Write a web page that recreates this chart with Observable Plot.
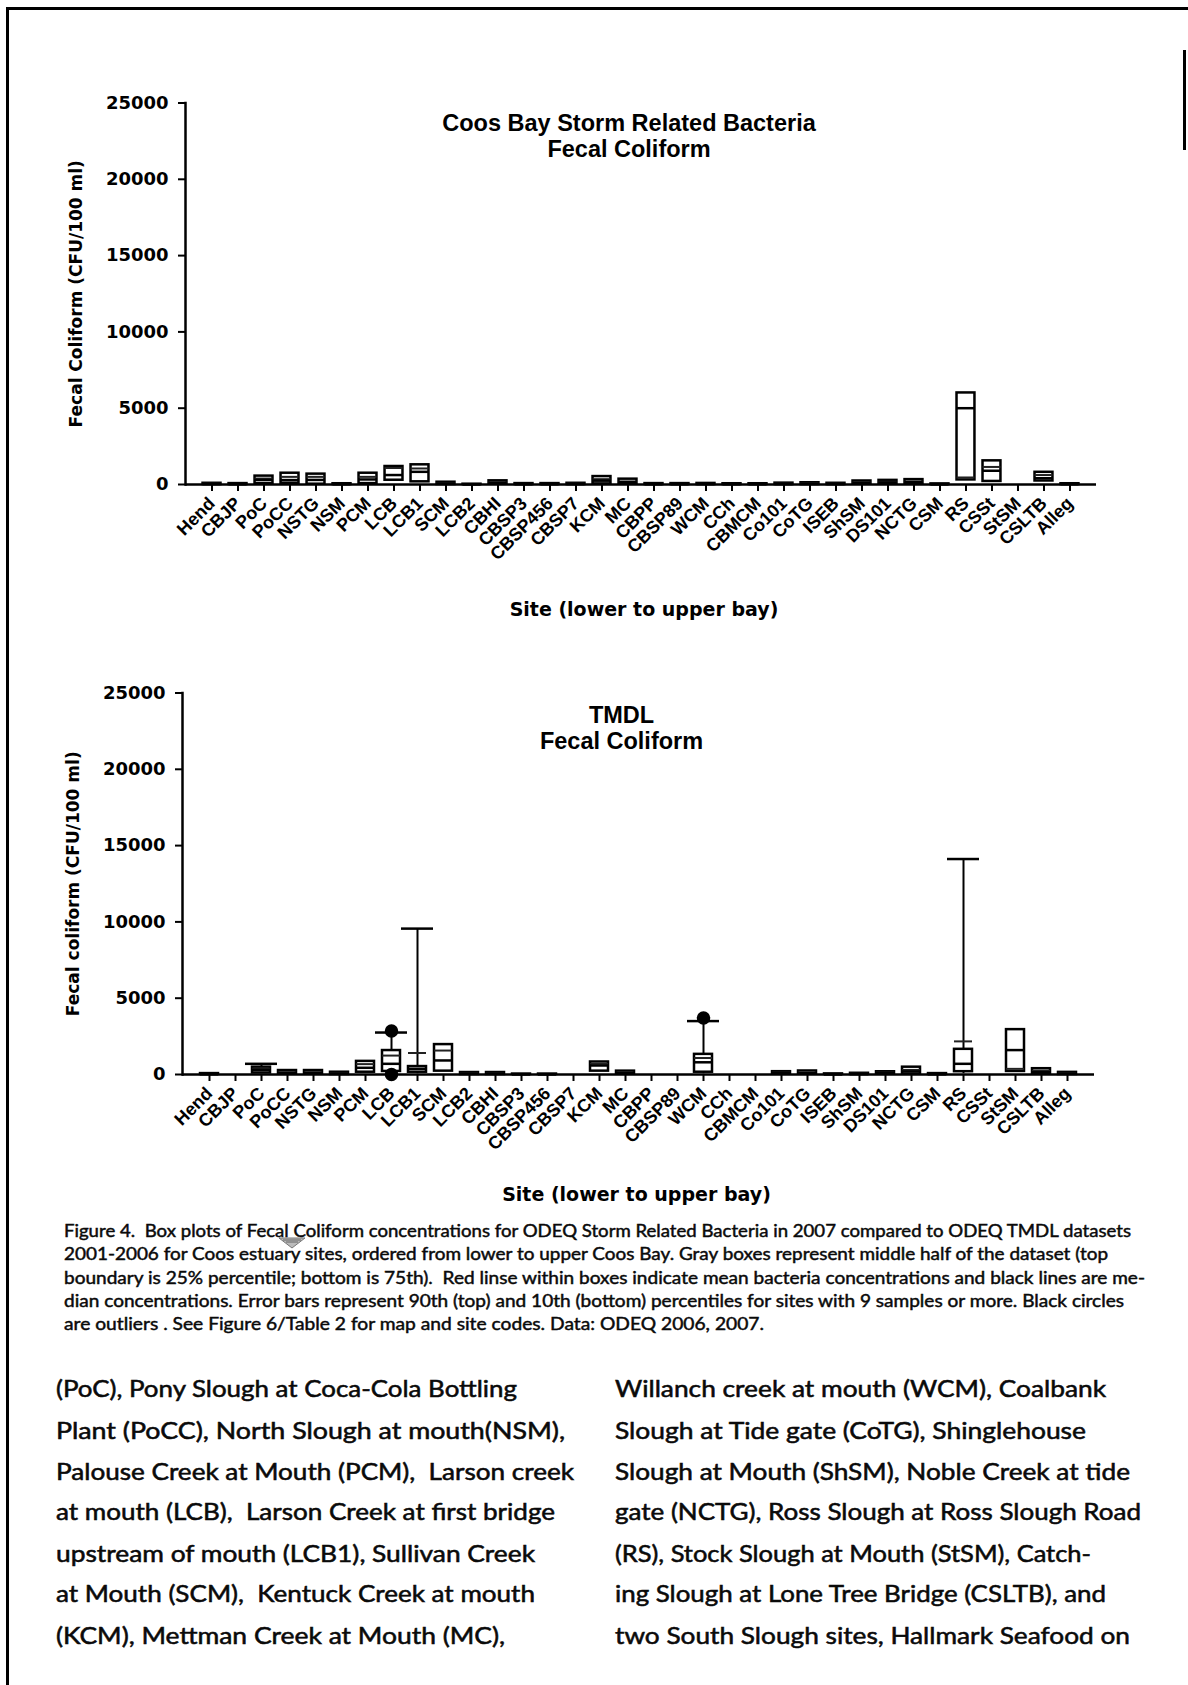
<!DOCTYPE html>
<html>
<head>
<meta charset="utf-8">
<script src="https://cdn.jsdelivr.net/npm/d3@7"></script>
<script src="https://cdn.jsdelivr.net/npm/@observablehq/plot@0.6"></script>
<style>
html, body { margin: 0; padding: 0; background: #fff; }
#page { position: relative; width: 1188px; height: 1685px; overflow: hidden; background: #fff; }
.blk { position: absolute; background: #000; }
.chart { position: absolute; left: 0; }
.line { position: absolute; white-space: pre; transform-origin: 0 0; color: #0a0a0a;
        font-family: Lato, "Open Sans", sans-serif; line-height: 1; }
.cap { -webkit-text-stroke: 0.45px #0a0a0a; }
.body { -webkit-text-stroke: 0.55px #0a0a0a; }
</style>
</head>
<body>
<div id="page">
  <div class="blk" style="left:6px;top:7px;width:1182px;height:3px;"></div>
  <div class="blk" style="left:6px;top:7px;width:3px;height:1678px;"></div>
  <div class="blk" style="left:1183px;top:50px;width:3px;height:100px;"></div>
  <div id="top" class="chart" style="top:0px;"></div>
  <div id="bottom" class="chart" style="top:640px;"></div>
  <svg style="position:absolute;left:278px;top:1237px;" width="28" height="12">
    <path d="M1,1 L27,1 L14,11 Z" fill="#bbb" stroke="#777" stroke-width="1"/>
    <path d="M5,3 L23,3 M8,5 L20,5" stroke="#666" stroke-width="1"/>
  </svg>
</div>
<script>
// ---------- data ----------
const sites = ["Hend","CBJP","PoC","PoCC","NSTG","NSM","PCM","LCB","LCB1","SCM","LCB2","CBHI","CBSP3","CBSP456","CBSP7","KCM","MC","CBPP","CBSP89","WCM","CCh","CBMCM","Co101","CoTG","ISEB","ShSM","DS101","NCTG","CSM","RS","CSSt","StSM","CSLTB","Alleg"];
const yTicks = [0, 5000, 10000, 15000, 20000, 25000];

// Storm related bacteria 2007
const stormQ1     = [0,0,60,80,20,0,60,280,175,0,0,20,0,0,0,40,30,0,0,0,0,0,0,0,0,20,20,20,0,300,200,null,230,0];
const stormQ3     = [80,60,550,740,680,50,740,1180,1290,150,20,240,60,60,80,520,350,60,60,70,50,50,90,115,80,230,270,320,40,6000,1550,null,800,50];
const stormMedian = [30,20,300,290,300,20,330,620,830,60,10,100,20,20,30,250,150,20,20,30,20,20,30,40,30,100,120,150,10,5000,900,null,410,20];
const stormMean   = [50,40,390,500,500,30,500,1080,1050,100,10,150,40,40,50,350,200,40,40,40,30,30,50,70,50,150,180,200,20,460,1150,null,620,30];

// TMDL 2001-2006
const tmdlQ1     = [0,null,100,30,30,0,150,200,150,220,0,0,0,0,null,220,20,null,null,150,null,null,20,20,0,0,20,30,0,185,null,200,30,0];
const tmdlQ3     = [60,null,480,260,260,150,860,1570,520,1960,130,130,30,30,null,820,220,null,null,1320,null,null,185,230,40,80,180,480,60,1650,null,2940,380,140];
const tmdlMedian = [20,null,300,100,100,50,440,700,370,920,50,50,10,10,null,590,80,null,null,800,null,null,80,80,10,30,80,200,20,700,null,1600,150,50];
const tmdlMean   = [40,null,380,150,150,80,680,1240,1410,1570,80,80,20,20,null,700,120,null,null,1080,null,null,120,130,20,50,120,300,40,2170,null,370,250,80];
const tmdlP10    = [null,null,null,null,null,null,null,60,50,null,null,null,null,null,null,null,null,null,null,50,null,null,null,null,null,null,null,null,null,50,null,null,null,null];
const tmdlP90    = [null,null,700,null,null,null,null,2750,9560,null,null,null,null,null,null,null,null,null,null,3500,null,null,null,null,null,null,null,null,null,14120,null,null,null,null];
const tmdlOutlierSite  = ["LCB","LCB","WCM"];
const tmdlOutlierValue = [2850, 0, 3700];

// ---------- text ----------
const captionLines = [
  "Figure 4.  Box plots of Fecal Coliform concentrations for ODEQ Storm Related Bacteria in 2007 compared to ODEQ TMDL datasets",
  "2001-2006 for Coos estuary sites, ordered from lower to upper Coos Bay. Gray boxes represent middle half of the dataset (top",
  "boundary is 25% percentile; bottom is 75th).  Red linse within boxes indicate mean bacteria concentrations and black lines are me-",
  "dian concentrations. Error bars represent 90th (top) and 10th (bottom) percentiles for sites with 9 samples or more. Black circles",
  "are outliers . See Figure 6/Table 2 for map and site codes. Data: ODEQ 2006, 2007."
];
const bodyLeft = [
  "(PoC), Pony Slough at Coca-Cola Bottling",
  "Plant (PoCC), North Slough at mouth(NSM),",
  "Palouse Creek at Mouth (PCM),  Larson creek",
  "at mouth (LCB),  Larson Creek at first bridge",
  "upstream of mouth (LCB1), Sullivan Creek",
  "at Mouth (SCM),  Kentuck Creek at mouth",
  "(KCM), Mettman Creek at Mouth (MC),"
];
const bodyRight = [
  "Willanch creek at mouth (WCM), Coalbank",
  "Slough at Tide gate (CoTG), Shinglehouse",
  "Slough at Mouth (ShSM), Noble Creek at tide",
  "gate (NCTG), Ross Slough at Ross Slough Road",
  "(RS), Stock Slough at Mouth (StSM), Catch-",
  "ing Slough at Lone Tree Bridge (CSLTB), and",
  "two South Slough sites, Hallmark Seafood on"
];

// ---------- charts ----------
function rowsOf(q1, q3, med, mean, p10, p90) {
  return sites.map((s, i) => ({
    site: s, q1: q1[i], q3: q3[i], median: med[i], mean: mean[i],
    p10: p10 ? p10[i] : null, p90: p90 ? p90[i] : null
  }));
}

function chart(o) {
  const rows = o.rows;
  const withHi = rows.filter(d => d.p90 != null);
  const withLo = rows.filter(d => d.p10 != null);
  return Plot.plot({
    width: 1188, height: o.height,
    marginLeft: o.marginLeft, marginRight: o.marginRight,
    marginTop: o.marginTop, marginBottom: o.marginBottom,
    style: { background: "transparent", fontFamily: "'DejaVu Sans', sans-serif", color: "#000", overflow: "visible" },
    x: { type: "band", domain: sites, paddingInner: 0.31, paddingOuter: 0.675, label: null },
    y: { domain: [0, 25000], label: null },
    marks: [
      Plot.ruleX(withHi, { x: "site", y1: "q3", y2: "p90", stroke: "#000", strokeWidth: 2 }),
      Plot.ruleX(withLo, { x: "site", y1: "p10", y2: "q1", stroke: "#000", strokeWidth: 2 }),
      Plot.tickY(withHi, { x: "site", y: "p90", stroke: "#000", strokeWidth: 2.5, insetLeft: -7, insetRight: -7 }),
      Plot.barY(rows, { x: "site", y1: "q1", y2: "q3", fill: "white", stroke: "#000", strokeWidth: 2.5 }),
      Plot.tickY(rows, { x: "site", y: "mean", stroke: "#222", strokeWidth: 2 }),
      Plot.tickY(rows, { x: "site", y: "median", stroke: "#000", strokeWidth: 2.5 }),
      Plot.dot(o.outliers, { x: "site", y: "value", r: 6, fill: "#000", stroke: "#000" }),
      Plot.ruleY([0], { stroke: "#000", strokeWidth: 2.5 }),
      Plot.frame({ anchor: "left", stroke: "#000", strokeWidth: 2.5 }),
      Plot.axisY({ ticks: yTicks, tickSize: 7, tickPadding: 10, tickFormat: d => String(d),
                   fontSize: 18, fontWeight: "bold", strokeWidth: 2, label: null }),
      Plot.axisX({ tickSize: 7, tickPadding: 9, tickRotate: -45, fontSize: 18, fontWeight: "bold",
                   fontFamily: "'Liberation Sans', Arial, sans-serif", strokeWidth: 2, label: null }),
      Plot.text([o.ylabel], { frameAnchor: "left", dx: -109, rotate: -90, textAnchor: "middle", lineAnchor: "middle",
                              fontSize: 17, fontWeight: "bold", fill: "#000" }),
      Plot.text(["Site (lower to upper bay)"], { frameAnchor: "bottom", dx: o.xlabelDx, dy: o.xlabelDy,
                              textAnchor: "middle", lineAnchor: "middle", fontSize: 19, fontWeight: "bold", fill: "#000" }),
      Plot.text([o.title], { frameAnchor: "top", dx: o.titleDx, dy: o.titleDy, textAnchor: "middle", lineAnchor: "top",
                              fontSize: 23.5, fontWeight: "bold", lineHeight: 1.12,
                              fontFamily: "'Liberation Sans', Arial, sans-serif", fill: "#000" })
    ]
  });
}

const stormRows = rowsOf(stormQ1, stormQ3, stormMedian, stormMean, null, null);
const tmdlRows = rowsOf(tmdlQ1, tmdlQ3, tmdlMedian, tmdlMean, tmdlP10, tmdlP90);
const tmdlOutliers = tmdlOutlierSite.map((s, i) => ({ site: s, value: tmdlOutlierValue[i] }));

document.getElementById("top").appendChild(chart({
  rows: stormRows, outliers: [], height: 640,
  marginLeft: 185, marginRight: 92, marginTop: 102.5, marginBottom: 156,
  title: "Coos Bay Storm Related Bacteria\nFecal Coliform", titleDx: -12, titleDy: 9,
  ylabel: "Fecal Coliform (CFU/100 ml)", xlabelDx: 3, xlabelDy: 125
}));
document.getElementById("bottom").appendChild(chart({
  rows: tmdlRows, outliers: tmdlOutliers, height: 575,
  marginLeft: 182, marginRight: 94, marginTop: 52.5, marginBottom: 141,
  title: "TMDL\nFecal Coliform", titleDx: -17, titleDy: 11,
  ylabel: "Fecal coliform (CFU/100 ml)", xlabelDx: -2, xlabelDy: 120
}));

// ---------- page text ----------
const page = document.getElementById("page");
const placed = [];
function place(lines, widths, centers, left, size, cls) {
  lines.forEach((t, i) => {
    const d = document.createElement("div");
    d.className = "line " + cls;
    d.textContent = t;
    d.style.fontSize = size + "px";
    d.style.left = left + "px";
    d.style.top = (centers[i] - 0.557 * size) + "px";
    page.appendChild(d);
    placed.push([d, widths[i]]);
  });
}
place(captionLines, [1067, 1044, 1081, 1060, 700], [1232, 1255.5, 1279, 1302.5, 1325.5], 64, 16.5, "cap");
place(bodyLeft, [461, 509, 518, 499, 479, 479, 449], [1390, 1431.7, 1473.3, 1513.3, 1555, 1595, 1636.7], 56, 23.5, "body");
place(bodyRight, [491, 471, 515, 526, 476, 491, 515], [1390, 1431.7, 1473.3, 1513.3, 1555, 1595, 1636.7], 615, 23.5, "body");
function fit() {
  placed.forEach(([d, w]) => {
    d.style.transform = "none";
    const nat = d.getBoundingClientRect().width;
    if (nat > 0) d.style.transform = "scaleX(" + (w / nat) + ")";
  });
}
fit();
if (document.fonts && document.fonts.ready) document.fonts.ready.then(fit);
</script>
</body>
</html>
